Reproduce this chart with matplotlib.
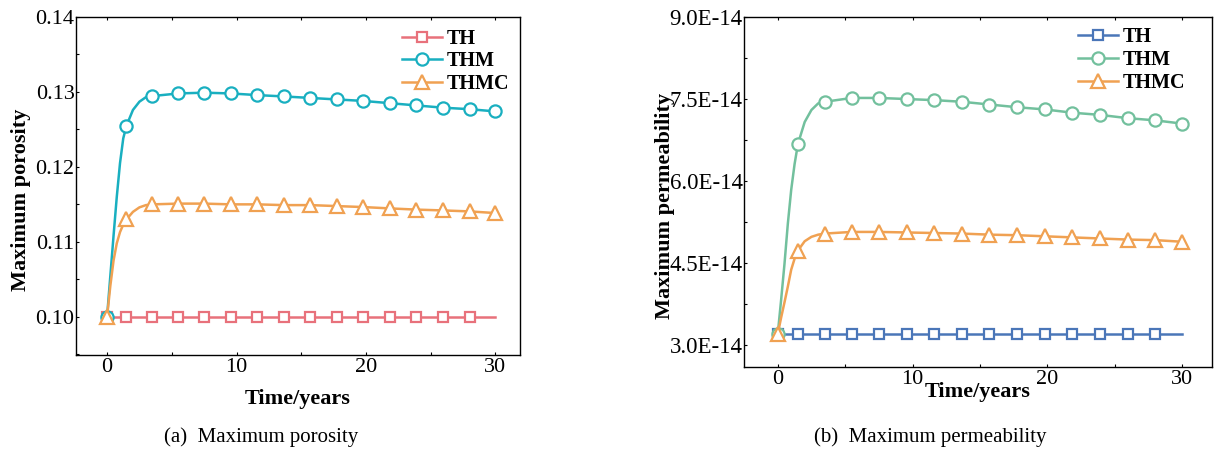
import matplotlib
matplotlib.use("Agg")
import matplotlib.pyplot as plt
from matplotlib.ticker import MultipleLocator, FormatStrFormatter, FuncFormatter

# ---- data ----
time = [0, 0.25, 0.5, 0.75, 1.0, 1.25, 1.5, 2.0, 2.5, 3.0, 3.5, 5.5, 7.5, 9.55,
        11.6, 13.65, 15.7, 17.75, 19.8, 21.85, 23.9, 25.95, 28.0, 30.0]
marker_times = [0, 1.5, 3.5, 5.5, 7.5, 9.55, 11.6, 13.65, 15.7, 17.75, 19.8,
                21.85, 23.9, 25.95, 28.0, 30.0]

por_th = [0.100, 0.100, 0.100, 0.100, 0.100, 0.100, 0.100, 0.100, 0.100, 0.100,
          0.100, 0.100, 0.100, 0.100, 0.100, 0.100, 0.100, 0.100, 0.100, 0.100,
          0.100, 0.100, 0.100, 0.100]
por_thm = [0.1000, 0.1054, 0.1108, 0.1160, 0.1205, 0.1238, 0.1255, 0.1276, 0.1287,
           0.1293, 0.12945, 0.1298, 0.1299, 0.1298, 0.12958, 0.1294, 0.1292, 0.1290,
           0.1288, 0.1285, 0.1282, 0.1279, 0.1277, 0.1274]
por_thmc = [0.1000, 0.1041, 0.1075, 0.1098, 0.1113, 0.1123, 0.1130, 0.1140, 0.1146,
            0.1149, 0.1150, 0.1151, 0.1151, 0.1150, 0.1150, 0.1149, 0.1149, 0.11477,
            0.11464, 0.11446, 0.1143, 0.11419, 0.11406, 0.11384]

# permeability in units of 1E-14
perm_th = [3.20, 3.20, 3.20, 3.20, 3.20, 3.20, 3.20, 3.20, 3.20, 3.20, 3.20, 3.20,
           3.20, 3.20, 3.20, 3.20, 3.20, 3.20, 3.20, 3.20, 3.20, 3.20, 3.20, 3.20]
perm_thm = [3.20, 3.82, 4.48, 5.22, 5.84, 6.31, 6.68, 7.08, 7.30, 7.42, 7.45, 7.52,
            7.52, 7.50, 7.48, 7.45, 7.40, 7.35, 7.31, 7.25, 7.21, 7.15, 7.11, 7.05]
perm_thmc = [3.20, 3.50, 3.78, 4.07, 4.38, 4.58, 4.73, 4.90, 4.98, 5.02, 5.04, 5.07,
             5.07, 5.06, 5.05, 5.04, 5.02, 5.01, 4.99, 4.97, 4.95, 4.93, 4.92, 4.89]

series_names = ["TH", "THM", "THMC"]
x_ticks = [0, 10, 20, 30]
por_ticks = [0.10, 0.11, 0.12, 0.13, 0.14]
perm_ticks = [3.0, 4.5, 6.0, 7.5, 9.0]

# ---- style ----
plt.rcParams["font.family"] = ["Liberation Serif", "DejaVu Serif"]

W, H = 1217, 451
fig = plt.figure(figsize=(W / 100, H / 100), dpi=100)

ax1 = fig.add_axes([76 / W, 1 - 355 / H, 444 / W, 338 / H])
ax2 = fig.add_axes([744 / W, 1 - 367 / H, 468 / W, 350 / H])

marker_idx_all = [time.index(t) for t in marker_times]
marker_idx_th = marker_idx_all[:-1]

def draw(ax, ys, colors, anchor, ylab_size):
    markers = ["s", "o", "^"]
    msizes = [7.5, 8.8, 10.5]
    handles = []
    for i, (y, c, m, ms, name) in enumerate(zip(ys, colors, markers, msizes, series_names)):
        idx = marker_idx_th if i == 0 else marker_idx_all
        h, = ax.plot(time, y, color=c, lw=1.8, marker=m, ms=ms, mfc="white",
                     mec=c, mew=1.6, markevery=idx, label=name, zorder=3 + i)
        handles.append(h)
    ax.legend(handles=handles, loc="upper right", frameon=False,
              prop={"weight": "bold", "size": 14.5}, handlelength=2.0,
              handletextpad=0.25, labelspacing=0.13, borderpad=0.0,
              borderaxespad=0.0, bbox_to_anchor=anchor)
    ax.set_xticks(x_ticks)
    ax.xaxis.set_minor_locator(MultipleLocator(5))
    ax.tick_params(which="both", direction="in", length=2, width=0.8,
                   top=True, right=False, labelsize=16, pad=2)
    ax.tick_params(axis="y", pad=1, labelsize=ylab_size)
    for s in ax.spines.values():
        s.set_linewidth(1.0)

left_colors = ["#E8717B", "#19AFC0", "#F0A152"]
right_colors = ["#4A76B8", "#72C09D", "#F0A152"]

draw(ax1, [por_th, por_thm, por_thmc], left_colors, (0.977, 0.965), 16)
ax1.set_xlim(-2.4, 31.9)
ax1.set_ylim(0.0949, 0.14)
ax1.set_yticks(por_ticks)
ax1.yaxis.set_major_formatter(FormatStrFormatter("%.2f"))
ax1.yaxis.set_minor_locator(MultipleLocator(0.005))
ax1.set_xlabel("Time/years", fontsize=16, fontweight="bold", labelpad=9)
ax1.set_ylabel("Maximum porosity", fontsize=16, fontweight="bold", labelpad=3)
ax1.yaxis.label.set_y(0.46)

draw(ax2, [perm_th, perm_thm, perm_thmc], right_colors, (0.944, 0.97), 16.5)
ax2.set_xlim(-2.5, 32.2)
ax2.set_ylim(2.6, 9.0)
ax2.set_yticks(perm_ticks)
ax2.yaxis.set_major_formatter(FuncFormatter(lambda v, p: f"{v:.1f}E-14"))
ax2.yaxis.set_minor_locator(MultipleLocator(0.75))
ax2.set_xlabel("Time/years", fontsize=16, fontweight="bold", labelpad=-5)
ax2.set_ylabel("Maximum permeability", fontsize=16, fontweight="bold", labelpad=-4)
ax2.yaxis.label.set_y(0.46)

fig.text(261 / W, 1 - 437 / H, "(a)  Maximum porosity", ha="center",
         va="center", fontsize=15)
fig.text(930 / W, 1 - 437 / H, "(b)  Maximum permeability", ha="center",
         va="center", fontsize=15)

fig.savefig("out.png", dpi=100)
